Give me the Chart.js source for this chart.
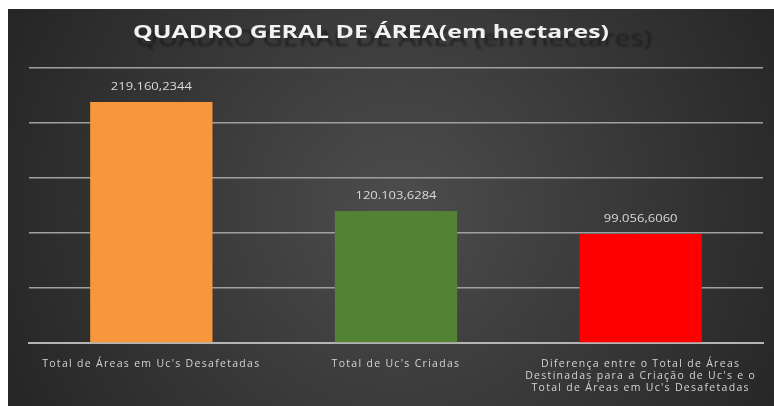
<!DOCTYPE html>
<html><head><meta charset="utf-8">
<script src="https://cdn.jsdelivr.net/npm/chart.js@4"></script>
<style>html,body{margin:0;padding:0;background:#fff;}#wrap{width:774px;height:406px;}</style>
</head><body><div id="wrap"><canvas id="c" width="774" height="406"></canvas></div>
<script>
const chartTitle = "QUADRO GERAL DE ÁREA(em hectares)";
const categories = [
  ["Total de Áreas em Uc's Desafetadas"],
  ["Total de Uc's Criadas"],
  ["Diferença entre o Total de Áreas", "Destinadas para a Criação de Uc's e o", "Total de Áreas em Uc's Desafetadas"]
];
const values = [219160.2344, 120103.6284, 99056.6060];
const valueLabels = ["219.160,2344", "120.103,6284", "99.056,6060"];
const barColors = ["#F7963A", "#548235", "#FF0000"];
const yMax = 250000;
const yStep = 50000;

const spacingPlugin = {
  id: 'spacing',
  beforeInit(chart) { chart.ctx.letterSpacing = '1.3px'; },
  beforeUpdate(chart) { chart.ctx.letterSpacing = '1.3px'; },
  beforeLayout(chart) { chart.ctx.letterSpacing = '1.3px'; },
  beforeDraw(chart) { chart.ctx.letterSpacing = '1.3px'; }
};

function stretchedText(ctx, text, font, color, cx, cy, sx, blur) {
  ctx.save();
  ctx.letterSpacing = '0px';
  ctx.font = font;
  if (blur) ctx.filter = 'blur(' + blur + 'px)';
  ctx.translate(cx, cy);
  ctx.scale(sx, 1);
  ctx.textAlign = 'center';
  ctx.textBaseline = 'middle';
  ctx.fillStyle = color;
  ctx.fillText(text, 0, 0);
  ctx.restore();
}
function widthOf(ctx, text, font) {
  ctx.save(); ctx.letterSpacing = '0px'; ctx.font = font;
  const w = ctx.measureText(text).width; ctx.restore(); return w;
}

const bgPlugin = {
  id: 'bg',
  beforeDraw(chart) {
    const ctx = chart.ctx;
    ctx.save();
    ctx.fillStyle = '#ffffff';
    ctx.fillRect(0, 0, chart.width, chart.height);
    const g = ctx.createRadialGradient(400, 210, 20, 400, 210, 430);
    g.addColorStop(0, '#4b4b4b');
    g.addColorStop(1, '#262626');
    ctx.fillStyle = g;
    ctx.fillRect(8, 9, chart.width - 8, chart.height - 9);
    ctx.restore();
    const shadowText = "QUADRO GERAL DE ÁREA (em hectares)";
    const sf = '21px "Open Sans", sans-serif';
    stretchedText(ctx, shadowText, sf, 'rgba(22,22,22,0.8)', 394, 40, 516 / widthOf(ctx, shadowText, sf), 0.8);
    const tf = 'bold 17px "Open Sans", sans-serif';
    stretchedText(ctx, chartTitle, tf, '#f2f2f2', 371, 33, 476 / widthOf(ctx, chartTitle, tf), 0);
  }
};

const labelPlugin = {
  id: 'vlabels',
  afterDatasetsDraw(chart) {
    const ctx = chart.ctx;
    const meta = chart.getDatasetMeta(0);
    meta.data.forEach((bar, i) => {
      stretchedText(ctx, valueLabels[i], '10px "Open Sans", sans-serif', '#d9d9d9', bar.x, bar.y - 15, 1.3, 0);
    });
  }
};

new Chart(document.getElementById('c'), {
  type: 'bar',
  data: {
    labels: categories,
    datasets: [{
      data: values,
      backgroundColor: barColors,
      borderWidth: 0,
      barPercentage: 0.5,
      categoryPercentage: 1.0
    }]
  },
  options: {
    responsive: false,
    animation: false,
    devicePixelRatio: 1,
    layout: { padding: { left: 29, right: 11, top: 68, bottom: 0 } },
    plugins: { legend: { display: false }, title: { display: false }, tooltip: { enabled: false } },
    scales: {
      x: {
        grid: { display: false },
        border: { display: true, color: '#b4b4b4', width: 2 },
        ticks: {
          color: '#d4d4d4',
          font: { family: '"Open Sans", sans-serif', size: 10.5, lineHeight: 1.15 },
          padding: 7,
          maxRotation: 0,
          autoSkip: false
        },
        afterFit(scale) { scale.height = 63; }
      },
      y: {
        min: 0, max: yMax,
        ticks: { display: false, stepSize: yStep },
        grid: { color: '#a0a0a0', lineWidth: 1.5, drawTicks: false },
        border: { display: false },
        afterFit(scale) { scale.width = 0; }
      }
    }
  },
  plugins: [spacingPlugin, bgPlugin, labelPlugin]
});
</script>
</body></html>
